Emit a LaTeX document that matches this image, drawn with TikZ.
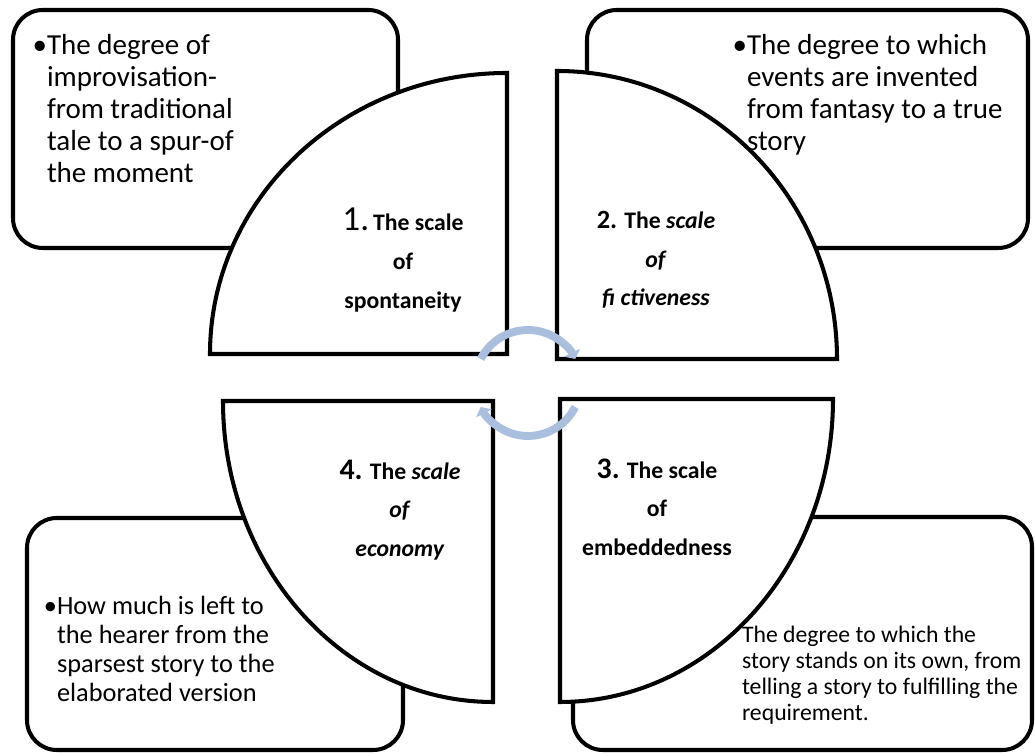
\documentclass[tikz,border=0pt]{standalone}
\usepackage{fontspec}
\setmainfont{Carlito}
\usetikzlibrary{arrows.meta}
\definecolor{cyclearrow}{RGB}{170,190,222}

\begin{document}
\begin{tikzpicture}[x=0.02cm, y=0.02cm, line width=2.3pt,
    box/.style={rounded corners=17pt},
    quarter/.style={fill=white},
    scalelabel/.style={align=center, inner sep=0pt, font=\fontsize{13.5}{22}\selectfont\bfseries},
    boxtext/.style={align=left, anchor=north west, inner sep=0pt},
    cycle/.style={cyclearrow, line width=4.5pt, -{Triangle[length=4pt, width=10pt]}}]
      \useasboundingbox (0, 0) rectangle (1035, 753);

      \draw[box] (13, 505) rectangle (398, 743);
      \draw[box] (587, 505) rectangle (1028, 743);
      \draw[box] (27, 3) rectangle (403, 235);
      \draw[box] (573, 3) rectangle (1032, 236);

      \draw[quarter] (507, 399) -- (210, 399) arc[start angle=180, end angle=90, x radius=297, y radius=281] -- cycle;
      \draw[quarter] (557, 394) -- (557, 682) arc[start angle=90, end angle=0, x radius=280, y radius=288] -- cycle;
      \draw[quarter] (560, 354) -- (833, 354) arc[start angle=0, end angle=-90, x radius=273, y radius=303] -- cycle;
      \draw[quarter] (493, 352) -- (493, 51) arc[start angle=270, end angle=180, x radius=270, y radius=301] -- cycle;

      \node[scalelabel] (spont) at (403, 493) {{\mdseries\fontsize{20}{22}\selectfont 1.}\,The scale\\of\\spontaneity};
      \node[scalelabel] (fict) at (656, 493) {{\fontsize{15}{22}\selectfont 2.} The \textit{scale}\\\textit{of}\\\textit{fi ctiveness}};
      \node[scalelabel] (embed) at (657, 246) {{\fontsize{17}{22}\selectfont 3.} The scale\\of\\embeddedness};
      \node[scalelabel] (econ) at (400, 243) {{\fontsize{17}{22}\selectfont 4.} The \textit{scale}\\\textit{of}\\\textit{economy}};

      \node[boxtext, font=\fontsize{16.5}{18.2}\selectfont] (improv) at (45, 721) {\llap{\textbullet}The degree of\\improvisation-\\from traditional\\tale to a spur-of\\the moment};
      \node[boxtext, font=\fontsize{16.5}{18.2}\selectfont] (invent) at (745, 721) {\llap{\textbullet}The degree to which\\events are invented\\from fantasy to a true\\story};
      \node[boxtext, font=\fontsize{15}{16.5}\selectfont] (hearer) at (55, 159) {\llap{\textbullet}How much is left to\\the hearer from the\\sparsest story to the\\elaborated version};
      \node[boxtext, font=\fontsize{13.5}{14.8}\selectfont] (stands) at (740, 129) {The degree to which the\\story stands on its own, from\\telling a story to fulfilling the\\requirement.};

      \coordinate (hub) at (528, 370);
      \draw[cycle] (hub) ++(153:53) arc[start angle=153, end angle=27, radius=53];
      \draw[cycle] (hub) ++(-27:53) arc[start angle=-27, end angle=-153, radius=53];
\end{tikzpicture}
\end{document}
